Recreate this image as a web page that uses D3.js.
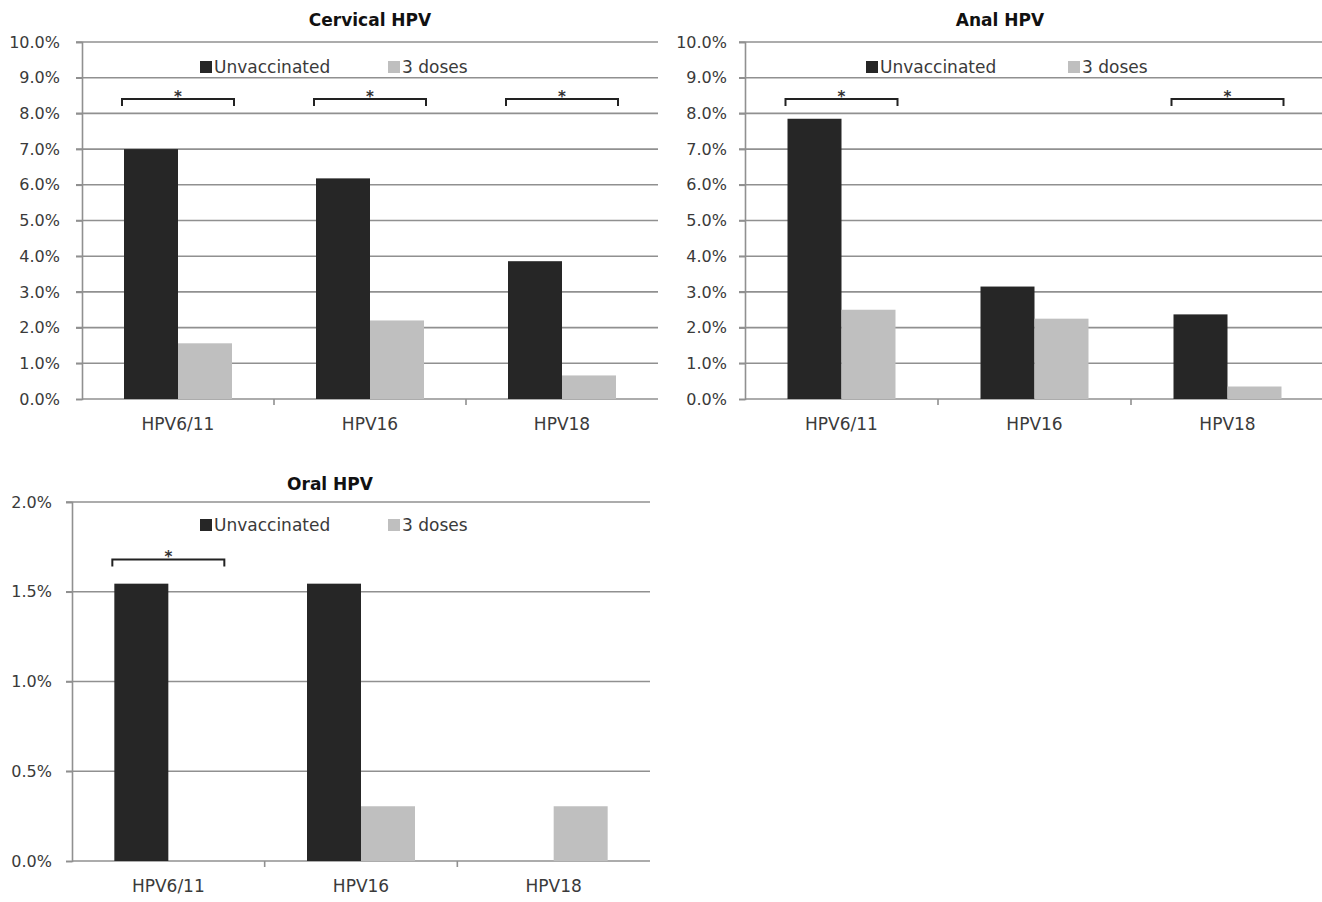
<!DOCTYPE html>
<html><head><meta charset="utf-8">
<script src="https://cdn.jsdelivr.net/npm/d3@7"></script>
<style>body{margin:0;background:#fff}svg{display:block}text{font-family:"DejaVu Sans",Verdana,sans-serif}</style>
</head><body>
<script>
const categories = ["HPV6/11", "HPV16", "HPV18"];
const seriesNames = ["Unvaccinated", "3 doses"];
const cervicalUnvacc = [7.0, 6.18, 3.86];
const cervicalDoses = [1.56, 2.2, 0.66];
const analUnvacc = [7.85, 3.15, 2.37];
const analDoses = [2.5, 2.25, 0.35];
const oralUnvacc = [1.545, 1.545, 0];
const oralDoses = [0, 0.305, 0.305];
const tensTicks = [0,1,2,3,4,5,6,7,8,9,10];
const oralTicks = [0, 0.5, 1.0, 1.5, 2.0];
const cervicalSig = ["HPV6/11", "HPV16", "HPV18"];
const analSig = ["HPV6/11", "HPV18"];
const oralSig = ["HPV6/11"];

const colors = ["#262626", "#bfbfbf"];
const W = 1322, H = 902;
const svg = d3.select("body").append("svg").attr("width", W).attr("height", H);

function panel(o) {
  const g = svg.append("g");
  const x = d3.scaleBand().domain(categories).range([o.x0, o.x1]).paddingInner(0).paddingOuter(0);
  const y = d3.scaleLinear().domain([0, o.max]).range([o.y0, o.y1]);
  const bw = 54;
  g.selectAll(".grid").data(o.ticks.slice(1)).enter().append("line")
    .attr("x1", o.x0 - 6).attr("x2", o.x1).attr("y1", d => y(d)).attr("y2", d => y(d))
    .attr("stroke", "#909090").attr("stroke-width", 1.6);
  const ya = d3.axisLeft(y).tickValues(o.ticks).tickSize(6).tickFormat(d => d.toFixed(1) + "%");
  const yg = g.append("g").attr("transform", `translate(${o.x0},0)`).call(ya);
  yg.select(".domain").attr("stroke", "#909090").attr("stroke-width", 1.6);
  yg.selectAll(".tick line").attr("stroke", "#909090").attr("stroke-width", 1.6);
  yg.selectAll(".tick text").attr("x", o.labelX - o.x0).attr("font-size", 16).attr("fill", "#3a3a3a").style("font-family", "DejaVu Sans, Verdana, sans-serif");
  const xa = d3.axisBottom(x).tickSize(0).tickFormat(d => d);
  const xg = g.append("g").attr("transform", `translate(0,${o.y0})`).call(xa);
  xg.select(".domain").attr("stroke", "#909090").attr("stroke-width", 1.6).attr("d", `M${o.x0},0H${o.x1}`);
  xg.selectAll(".tick text").attr("y", 19).attr("font-size", 17).attr("fill", "#3a3a3a").style("font-family", "DejaVu Sans, Verdana, sans-serif");
  g.selectAll(".xt").data(categories.slice(1)).enter().append("line")
    .attr("x1", d => x(d)).attr("x2", d => x(d)).attr("y1", o.y0).attr("y2", o.y0 + 6)
    .attr("stroke", "#909090").attr("stroke-width", 1.6);
  [o.s1, o.s2].forEach((vals, si) => {
    g.selectAll(".b" + si).data(vals).enter().append("rect")
      .attr("x", (d, i) => x(categories[i]) + x.bandwidth() / 2 - bw + si * bw)
      .attr("width", bw)
      .attr("y", d => y(d)).attr("height", d => y(0) - y(d))
      .attr("fill", colors[si]);
  });
  const bt = y(o.bracket);
  o.sig.forEach(c => {
    const cx = x(c) + x.bandwidth() / 2;
    const l = cx - 56, r = cx + 56;
    g.append("path").attr("d", `M${l},${bt + 7}V${bt}H${r}V${bt + 7}`)
      .attr("fill", "none").attr("stroke", "#222").attr("stroke-width", 2);
    g.append("text").attr("x", cx).attr("y", bt + 3).attr("text-anchor", "middle")
      .attr("font-size", 15).attr("font-weight", "bold").attr("fill", "#333").text("*");
  });
  g.append("text").attr("x", o.titleX).attr("y", o.titleY).attr("text-anchor", "middle")
    .attr("font-size", 17).attr("font-weight", "bold").attr("fill", "#111").text(o.title);
  seriesNames.forEach((n, i) => {
    const lx = o.legX[i];
    g.append("rect").attr("x", lx).attr("y", o.legY - 6).attr("width", 12).attr("height", 12).attr("fill", colors[i]);
    g.append("text").attr("x", lx + 14).attr("y", o.legY).attr("dy", "0.35em")
      .attr("font-size", 17).attr("fill", "#3a3a3a").text(n);
  });
}

panel({title: "Cervical HPV", titleX: 370, titleY: 26, x0: 82, x1: 658, y0: 399, y1: 42, max: 10,
  ticks: tensTicks, labelX: 60, s1: cervicalUnvacc, s2: cervicalDoses, sig: cervicalSig, bracket: 8.4,
  legX: [200, 388], legY: 67});
panel({title: "Anal HPV", titleX: 1000, titleY: 26, x0: 745, x1: 1324, y0: 399, y1: 42, max: 10,
  ticks: tensTicks, labelX: 727, s1: analUnvacc, s2: analDoses, sig: analSig, bracket: 8.4,
  legX: [866, 1068], legY: 67});
panel({title: "Oral HPV", titleX: 330, titleY: 490, x0: 72, x1: 650, y0: 861, y1: 502, max: 2,
  ticks: oralTicks, labelX: 52, s1: oralUnvacc, s2: oralDoses, sig: oralSig, bracket: 1.68,
  legX: [200, 388], legY: 525});
</script>
</body></html>
